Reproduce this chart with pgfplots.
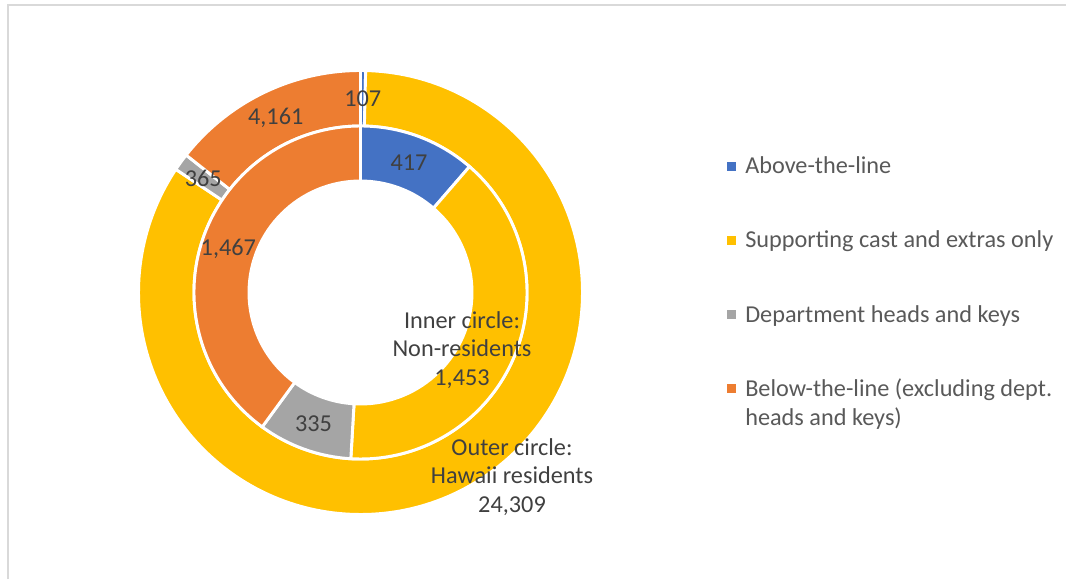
\documentclass[border=0pt]{standalone}
\usepackage{fontspec}
\setmainfont{Carlito}
\usepackage{pgfplots}
\usepackage{pgfplotstable}
\pgfplotsset{compat=1.18}
\usetikzlibrary{calc}

\definecolor{cAbove}{HTML}{4472C4}
\definecolor{cSupport}{HTML}{FFC000}
\definecolor{cHeads}{HTML}{A5A5A5}
\definecolor{cBelow}{HTML}{ED7D31}
\definecolor{lbl}{HTML}{404040}
\definecolor{leg}{HTML}{595959}
\definecolor{frame}{HTML}{D9D9D9}

% outer ring: Hawaii residents, inner ring: non-residents
\pgfplotstableread{
cat outer inner
0 107 417
1 24309 1453
2 365 335
3 4161 1467
}\crew

\newcommand\getval[3]{\pgfplotstablegetelem{#1}{#2}\of\crew\global\let#3\pgfplotsretval}

% one ring segment: colour, start angle, end angle, inner radius, outer radius
\newcommand\ring[5]{%
  \fill[#1,draw=white,line width=2.2pt]
    ($(C)+(#2:#5)$) arc[start angle=#2,end angle=#3,radius=#5]
    -- ($(C)+(#3:#4)$) arc[start angle=#3,end angle=#2,radius=#4] -- cycle;}

\pgfkeys{/pgf/number format/.cd,1000 sep={,},assume math mode=true}

\begin{document}
\begin{tikzpicture}
\getval{0}{outer}\oA \getval{1}{outer}\oB \getval{2}{outer}\oC \getval{3}{outer}\oD
\getval{0}{inner}\iA \getval{1}{inner}\iB \getval{2}{inner}\iC \getval{3}{inner}\iD
\edef\oT{\fpeval{\oA+\oB+\oC+\oD}}%
\edef\iT{\fpeval{\iA+\iB+\iC+\iD}}%
% slices run clockwise from 12 o'clock
\edef\oa{\fpeval{90-360*\oA/\oT}}%
\edef\ob{\fpeval{\oa-360*\oB/\oT}}%
\edef\oc{\fpeval{\ob-360*\oC/\oT}}%
\edef\od{\fpeval{\oc-360*\oD/\oT}}%
\edef\ia{\fpeval{90-360*\iA/\iT}}%
\edef\ib{\fpeval{\ia-360*\iB/\iT}}%
\edef\ic{\fpeval{\ib-360*\iC/\iT}}%
\edef\id{\fpeval{\ic-360*\iD/\iT}}%
\begin{axis}[
  x=0.75pt, y=0.75pt,
  xmin=0, xmax=1066, ymin=0, ymax=579,
  at={(0,0)}, anchor=origin,
  hide axis, clip=false,
]
\coordinate (BL) at (axis cs:0,0);
\coordinate (TR) at (axis cs:1066,579);
\coordinate (C) at (axis cs:360.5,286.5);
% outer ring
\ring{cAbove}{90}{\oa}{124.875pt}{166.5pt}
\ring{cSupport}{\oa}{\ob}{124.875pt}{166.5pt}
\ring{cHeads}{\ob}{\oc}{124.875pt}{166.5pt}
\ring{cBelow}{\oc}{\od}{124.875pt}{166.5pt}
% inner ring
\ring{cAbove}{90}{\ia}{83.625pt}{124.875pt}
\ring{cSupport}{\ia}{\ib}{83.625pt}{124.875pt}
\ring{cHeads}{\ib}{\ic}{83.625pt}{124.875pt}
\ring{cBelow}{\ic}{\id}{83.625pt}{124.875pt}

% data labels at the middle of each segment
\begin{scope}[every node/.style={text=lbl,font=\fontsize{18.2}{21.6}\selectfont,inner sep=0pt,align=center}]
\node at ($(C)+({(90+\oa)/2}:145.7pt)$) {\pgfmathprintnumber{\oA}};
\node at ($(C)+({(\ob+\oc)/2}:145.7pt)$) {\pgfmathprintnumber{\oC}};
\node at ($(C)+({(\oc+\od)/2}:145.7pt)$) {\pgfmathprintnumber{\oD}};
\node at ($(C)+({(90+\ia)/2}:104.25pt)$) {\pgfmathprintnumber{\iA}};
\node at ($(C)+({(\ib+\ic)/2}:104.25pt)$) {\pgfmathprintnumber{\iC}};
\node at ($(C)+({(\ic+\id)/2}:104.25pt)$) {\pgfmathprintnumber{\iD}};
\node at (axis cs:462,229) {Inner circle:\\Non-residents\\\pgfmathprintnumber{\iB}};
\node at (axis cs:512,102) {Outer circle:\\Hawaii residents\\\pgfmathprintnumber{\oB}};
\end{scope}

% legend
\begin{scope}[every node/.style={text=leg,font=\fontsize{18.2}{21.6}\selectfont,inner sep=0pt,anchor=base west}]
\fill[cAbove] (axis cs:727,407.5) rectangle (axis cs:736,416.5);
\fill[cSupport] (axis cs:727,334) rectangle (axis cs:736,343);
\fill[cHeads] (axis cs:727,260) rectangle (axis cs:736,269);
\fill[cBelow] (axis cs:727,186.5) rectangle (axis cs:736,195.5);
\node at (axis cs:745,405) {Above-the-line};
\node at (axis cs:745,331) {Supporting cast and extras only};
\node at (axis cs:745,257) {Department heads and keys};
\node at (axis cs:745,183) {Below-the-line (excluding dept.};
\node at (axis cs:745,154) {heads and keys)};
\end{scope}

% chart area frame, cut off at the right and bottom
\draw[frame,line width=1.5pt] (axis cs:8,0) -- (axis cs:8,574) -- (axis cs:1066,574);
\end{axis}
\pgfresetboundingbox
\path[use as bounding box] (BL) rectangle (TR);
\end{tikzpicture}
\end{document}
